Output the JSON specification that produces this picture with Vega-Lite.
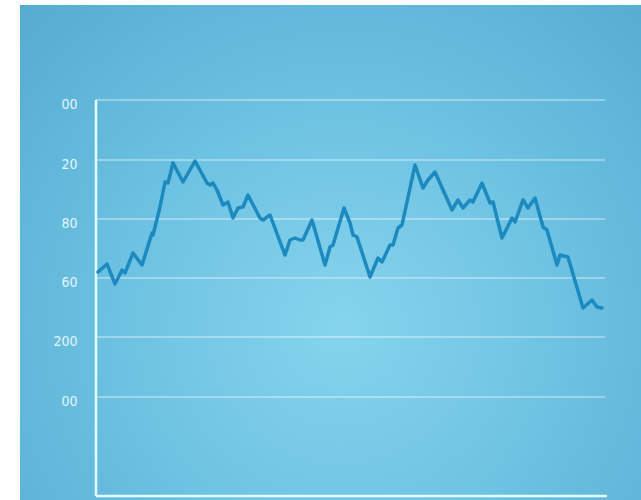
{
  "$schema": "https://vega.github.io/schema/vega-lite/v6.json",
  "width": 621,
  "height": 495,
  "padding": {"left": 20, "top": 5, "right": 0, "bottom": 0},
  "autosize": {"type": "none"},
  "background": "#ffffff",
  "view": {
    "stroke": null,
    "fill": {
      "gradient": "radial",
      "x1": 0.52, "y1": 0.62, "r1": 0,
      "x2": 0.52, "y2": 0.62, "r2": 0.78,
      "stops": [
        {"offset": 0, "color": "#86d4ed"},
        {"offset": 0.5, "color": "#6bc0e1"},
        {"offset": 1, "color": "#52a8ce"}
      ]
    }
  },
  "datasets": {
    "series": [
      {"t": 2, "v": 224}, {"t": 11, "v": 232}, {"t": 19, "v": 212}, {"t": 26, "v": 226}, {"t": 29, "v": 223},
      {"t": 37, "v": 243}, {"t": 46, "v": 231}, {"t": 56, "v": 263}, {"t": 57, "v": 261}, {"t": 64, "v": 289},
      {"t": 69, "v": 314}, {"t": 72, "v": 313}, {"t": 77, "v": 333}, {"t": 87, "v": 314}, {"t": 99, "v": 335},
      {"t": 111, "v": 313}, {"t": 114, "v": 311}, {"t": 117, "v": 313}, {"t": 121, "v": 306}, {"t": 127, "v": 291},
      {"t": 132, "v": 294}, {"t": 137, "v": 278}, {"t": 142, "v": 288}, {"t": 147, "v": 289}, {"t": 152, "v": 301},
      {"t": 164, "v": 278}, {"t": 167, "v": 276}, {"t": 174, "v": 281}, {"t": 189, "v": 241}, {"t": 194, "v": 256},
      {"t": 199, "v": 258}, {"t": 204, "v": 256}, {"t": 207, "v": 256}, {"t": 216, "v": 276}, {"t": 229, "v": 231},
      {"t": 234, "v": 249}, {"t": 237, "v": 251}, {"t": 248, "v": 288}, {"t": 254, "v": 273}, {"t": 257, "v": 261},
      {"t": 261, "v": 259}, {"t": 274, "v": 219}, {"t": 282, "v": 238}, {"t": 286, "v": 234}, {"t": 294, "v": 251},
      {"t": 297, "v": 251}, {"t": 302, "v": 268}, {"t": 306, "v": 271}, {"t": 319, "v": 331}, {"t": 327, "v": 308},
      {"t": 332, "v": 316}, {"t": 339, "v": 324}, {"t": 356, "v": 286}, {"t": 362, "v": 296}, {"t": 367, "v": 288},
      {"t": 374, "v": 296}, {"t": 377, "v": 294}, {"t": 386, "v": 313}, {"t": 394, "v": 293}, {"t": 397, "v": 294},
      {"t": 406, "v": 258}, {"t": 416, "v": 278}, {"t": 419, "v": 274}, {"t": 427, "v": 296}, {"t": 432, "v": 288},
      {"t": 439, "v": 298}, {"t": 447, "v": 269}, {"t": 451, "v": 266}, {"t": 461, "v": 231}, {"t": 464, "v": 241},
      {"t": 472, "v": 239}, {"t": 487, "v": 188}, {"t": 496, "v": 196}, {"t": 501, "v": 189}, {"t": 506, "v": 188}
    ],
    "grid": [
      {"level": 396}, {"level": 336}, {"level": 277}, {"level": 218}, {"level": 159}, {"level": 99}
    ],
    "frame": [{"id": 1}]
  },
  "layer": [
    {
      "data": {"name": "grid"},
      "mark": {"type": "rule", "color": "#ffffff", "opacity": 0.45, "strokeWidth": 1.5},
      "encoding": {
        "y": {
          "field": "level", "type": "quantitative",
          "scale": {"domain": [-4, 491], "nice": false, "zero": false},
          "axis": {
            "values": [396, 336, 277, 218, 159, 99],
            "labelExpr": "datum.value == 396 ? '00' : datum.value == 336 ? '20' : datum.value == 277 ? '80' : datum.value == 218 ? '60' : datum.value == 159 ? '200' : '00'",
            "domain": false, "ticks": false, "tickSize": 0, "grid": false, "title": null,
            "offset": -59, "labelPadding": 2, "labelOffset": 4,
            "labelColor": "#e2f5fb", "labelFont": "'DejaVu Sans Condensed', 'Liberation Sans'",
            "labelFontSize": 14, "labelFontWeight": "normal", "labelFlush": false
          }
        },
        "x": {"datum": 0, "type": "quantitative", "scale": {"domain": [-76, 545], "nice": false, "zero": false}, "axis": null},
        "x2": {"datum": 509}
      }
    },
    {
      "data": {"name": "frame"},
      "mark": {"type": "rule", "color": "#e4fbff", "strokeWidth": 2.5},
      "encoding": {
        "x": {"datum": 0, "type": "quantitative"},
        "y": {"datum": 0, "type": "quantitative"},
        "y2": {"datum": 396}
      }
    },
    {
      "data": {"name": "frame"},
      "mark": {"type": "rule", "color": "#e4fbff", "strokeWidth": 2.5},
      "encoding": {
        "x": {"datum": 0, "type": "quantitative"},
        "x2": {"datum": 511},
        "y": {"datum": 0, "type": "quantitative"}
      }
    },
    {
      "data": {"name": "series"},
      "mark": {"type": "line", "color": "#1c8abf", "strokeWidth": 3.5, "strokeJoin": "round", "strokeCap": "round"},
      "encoding": {
        "x": {"field": "t", "type": "quantitative"},
        "y": {"field": "v", "type": "quantitative"}
      }
    }
  ]
}
